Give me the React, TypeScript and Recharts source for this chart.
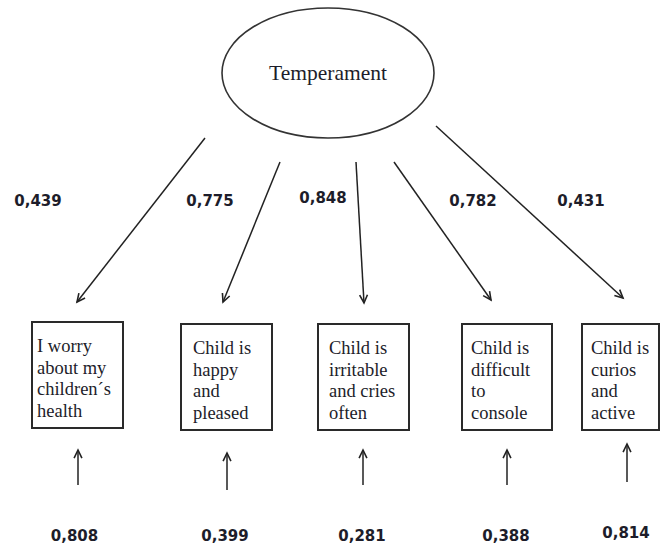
import { ScatterChart, Scatter, XAxis, YAxis, ReferenceLine } from 'recharts';

// measurement model: one latent factor, five indicators
const latentName = 'Temperament';

const indicatorLabels = [
  ['I worry', 'about my', 'children´s', 'health'],
  ['Child is', 'happy', 'and', 'pleased'],
  ['Child is', 'irritable', 'and cries', 'often'],
  ['Child is', 'difficult', 'to', 'console'],
  ['Child is', 'curios', 'and', 'active'],
];

const loadings = [0.439, 0.775, 0.848, 0.782, 0.431];
const errorVariances = [0.808, 0.399, 0.281, 0.388, 0.814];

// diagram layout (in the chart's own coordinate units)
const latentCenter = { x: 328, y: 73 };
const boxLeft = [32, 181, 318, 462, 582];
const boxRight = [123, 272, 409, 552, 659];
const boxTop = [322, 324, 324, 324, 324];
const boxBottom = [428, 430, 430, 430, 430];
const textInset = [5, 12, 11, 9, 9];

const loadingFrom = [[205, 138], [280, 162], [356, 162], [394, 162], [436, 126]];
const loadingTo = [[77, 302], [223, 302], [364, 303], [491, 300], [623, 298]];
const loadingLabelAt = [[38, 200], [210, 200], [323, 197], [473, 200], [581, 200]];

const errorX = [78, 227, 363, 507, 627];
const errorFromY = [485, 490, 485, 485, 482];
const errorToY = [450, 453, 450, 450, 444];
const errorLabelAt = [[74.5, 535], [225, 535], [362, 535], [506, 535], [626, 532]];

const fmt = (v: number) => v.toFixed(3).replace('.', ',');

const latentData = [{ x: latentCenter.x, y: latentCenter.y, name: latentName }];
const boxData = indicatorLabels.map((lines, i) => ({
  x: (boxLeft[i] + boxRight[i]) / 2,
  y: (boxTop[i] + boxBottom[i]) / 2,
  w: boxRight[i] - boxLeft[i],
  h: boxBottom[i] - boxTop[i],
  inset: textInset[i],
  lines,
}));
const loadingLabelData = loadings.map((v, i) => ({ x: loadingLabelAt[i][0], y: loadingLabelAt[i][1], text: fmt(v) }));
const errorLabelData = errorVariances.map((v, i) => ({ x: errorLabelAt[i][0], y: errorLabelAt[i][1], text: fmt(v) }));

const INK = '#222';
const SERIF = '"Liberation Serif", "Times New Roman", serif';
const NUM_FONT = '"DejaVu Sans", Verdana, sans-serif';

const Arrow = (props: any) => {
  const { x1, y1, x2, y2 } = props;
  const ang = Math.atan2(y2 - y1, x2 - x1);
  const len = 9;
  const spread = 0.45;
  const ax = x2 - len * Math.cos(ang - spread);
  const ay = y2 - len * Math.sin(ang - spread);
  const bx = x2 - len * Math.cos(ang + spread);
  const by = y2 - len * Math.sin(ang + spread);
  return (
    <g>
      <line x1={x1} y1={y1} x2={x2} y2={y2} stroke={INK} strokeWidth={1.5} />
      <polyline points={`${ax},${ay} ${x2},${y2} ${bx},${by}`} fill="none" stroke={INK} strokeWidth={1.6} />
    </g>
  );
};

const LatentShape = (props: any) => {
  const { cx, cy, payload } = props;
  return (
    <g>
      <ellipse cx={cx} cy={cy} rx={106} ry={65} fill="#fff" stroke="#333" strokeWidth={1.6} />
      <text x={cx} y={cy + 7} textAnchor="middle" fontFamily={SERIF} fontSize={21.5} fill="#1d1d2a">
        {payload.name}
      </text>
    </g>
  );
};

const BoxShape = (props: any) => {
  const { cx, cy, payload } = props;
  const left = cx - payload.w / 2;
  const top = cy - payload.h / 2;
  return (
    <g>
      <rect x={left} y={top} width={payload.w} height={payload.h} fill="#fff" stroke="#2a2a2a" strokeWidth={2} />
      {payload.lines.map((line: string, k: number) => (
        <text key={k} x={left + payload.inset} y={top + 30 + k * 21.5} fontFamily={SERIF} fontSize={18.5} fill="#1d1d2a">
          {line}
        </text>
      ))}
    </g>
  );
};

const NumberShape = (props: any) => {
  const { cx, cy, payload } = props;
  return (
    <text x={cx} y={cy + 5.5} textAnchor="middle" fontFamily={NUM_FONT} fontWeight="bold" fontSize={15} fill="#1d1d2a">
      {payload.text}
    </text>
  );
};

export default function App() {
  return (
    <div style={{ position: 'absolute', left: 0, top: 0, background: '#fff' }}>
      <ScatterChart width={662} height={546} margin={{ top: 0, right: 0, bottom: 0, left: 0 }}>
        <XAxis type="number" dataKey="x" domain={[0, 662]} allowDataOverflow hide />
        <YAxis type="number" dataKey="y" domain={[0, 546]} allowDataOverflow reversed hide />
        {loadingFrom.map((p, i) => (
          <ReferenceLine
            key={`ld-${i}`}
            segment={[{ x: p[0], y: p[1] }, { x: loadingTo[i][0], y: loadingTo[i][1] }]}
            shape={Arrow}
            ifOverflow="visible"
          />
        ))}
        {errorX.map((x, i) => (
          <ReferenceLine
            key={`er-${i}`}
            segment={[{ x, y: errorFromY[i] }, { x, y: errorToY[i] }]}
            shape={Arrow}
            ifOverflow="visible"
          />
        ))}
        <Scatter data={latentData} shape={LatentShape} isAnimationActive={false} />
        <Scatter data={boxData} shape={BoxShape} isAnimationActive={false} />
        <Scatter data={loadingLabelData} shape={NumberShape} isAnimationActive={false} />
        <Scatter data={errorLabelData} shape={NumberShape} isAnimationActive={false} />
      </ScatterChart>
    </div>
  );
}
